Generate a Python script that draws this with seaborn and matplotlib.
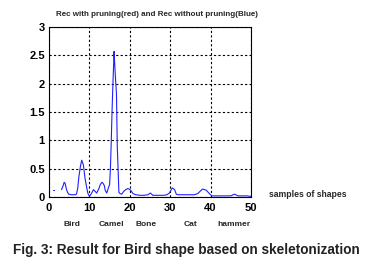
import matplotlib
matplotlib.use("Agg")
import matplotlib.pyplot as plt
import seaborn as sns
import pandas as pd
import numpy as np

# data
seg1_x = [1.0, 1.25]
seg1_y = [0.12, 0.12]

seg2_x = [3.1, 3.5, 3.75, 4.0, 4.3, 4.6, 4.9, 5.5, 6.0, 6.5, 6.8, 7.1, 7.4, 7.8, 8.1, 8.5, 8.9, 9.3, 9.6, 10.0,
          10.5, 11.0, 11.4, 11.8, 12.3, 12.7, 13.1, 13.4, 13.7, 13.9, 14.3, 14.7, 15.0, 15.2, 15.4, 15.6, 15.8,
          16.0, 16.1, 16.3, 16.5, 16.7, 16.9, 17.1, 17.3, 17.6, 18.0, 18.5, 19.0, 19.5, 19.8, 20.2, 20.8,
          21.5, 22.5, 23.5, 24.5, 25.1, 25.7, 26.5, 27.5, 28.5, 29.2, 29.8, 30.5, 31.1, 31.5, 32.0, 33.0,
          34.0, 35.0, 36.0, 36.8, 37.4, 38.0, 38.9, 39.7, 40.3, 41.0, 42.0, 43.0, 44.0, 45.0, 45.9, 46.8,
          48.0, 49.0, 50.0]
seg2_y = [0.13, 0.2, 0.26, 0.24, 0.14, 0.08, 0.05, 0.04, 0.04, 0.04, 0.05, 0.15, 0.36, 0.55, 0.65, 0.57, 0.34,
          0.18, 0.07, 0.01, 0.06, 0.13, 0.1, 0.07, 0.14, 0.22, 0.26, 0.24, 0.2, 0.12, 0.07, 0.16, 0.22, 0.5,
          0.95, 1.5, 1.95, 2.35, 2.57, 2.3, 2.04, 1.83, 0.89, 0.5, 0.08, 0.06, 0.05, 0.1, 0.13, 0.15, 0.14,
          0.12, 0.06, 0.04, 0.03, 0.03, 0.04, 0.07, 0.03, 0.03, 0.03, 0.03, 0.04, 0.07, 0.16, 0.13, 0.05,
          0.04, 0.04, 0.04, 0.04, 0.04, 0.06, 0.1, 0.14, 0.12, 0.06, 0.02, 0.02, 0.02, 0.02, 0.02, 0.02,
          0.05, 0.02, 0.02, 0.02, 0.01]

x_ticks = [0, 10, 20, 30, 40, 50]
y_ticks = [0, 0.5, 1, 1.5, 2, 2.5, 3]
y_ticklabels = ["0", "0.5", "1", "1.5", "2", "2.5", "3"]
shape_names = ["Bird", "Camel", "Bone", "Cat", "hammer"]
shape_pos = [5.7, 15.5, 24.0, 35.0, 45.7]

title = "Rec with pruning(red) and Rec without pruning(Blue)"
xlabel = "samples of shapes"
caption = "Fig. 3: Result for Bird shape based on skeletonization"

df = pd.DataFrame({
    "x": seg1_x + seg2_x,
    "y": seg1_y + seg2_y,
    "seg": [1] * len(seg1_x) + [2] * len(seg2_x),
})

sns.set_style("white")
plt.rcParams["font.family"] = ["Liberation Sans", "DejaVu Sans"]

fig = plt.figure(figsize=(3.72, 2.67), dpi=100)
ax = fig.add_axes([49 / 372, 1 - 197 / 267, (251 - 49) / 372, (197 - 27) / 267])

sns.lineplot(data=df, x="x", y="y", units="seg", estimator=None, color="#2020ff",
             linewidth=0.8, ax=ax, legend=False)

ax.set_xlim(0, 50)
ax.set_ylim(0, 3)
ax.set_xticks(x_ticks)
ax.set_yticks(y_ticks)
ax.set_yticklabels(y_ticklabels)
ax.set_xlabel("")
ax.set_ylabel("")
ax.grid(True, color="black", linestyle=(0, (2, 2)), linewidth=0.8)
for s in ax.spines.values():
    s.set_visible(True)
    s.set_color("black")
    s.set_linewidth(0.8)
ax.tick_params(direction="in", length=3, width=0.6, labelsize=8, colors="black")
ax.tick_params(axis="x", pad=4)
ax.tick_params(axis="y", pad=3)
for lab in ax.get_xticklabels() + ax.get_yticklabels():
    lab.set_fontweight("bold")

fig.text(156.5 / 372, 1 - 15 / 267, title, fontsize=5.8, fontweight="bold",
         ha="center", va="center")
ax.text(1.09, 0.015, xlabel, transform=ax.transAxes, fontsize=6.2, fontweight="bold",
        ha="left", va="center")
for name, pos in zip(shape_names, shape_pos):
    ax.text(pos, -0.16, name, transform=ax.get_xaxis_transform(), fontsize=6.0,
            fontweight="bold", ha="center", va="center")

fig.text(186 / 372, 1 - 250 / 267, caption, fontsize=9.8, fontweight="bold",
         ha="center", va="center", color="#222222")

fig.savefig("out.png", dpi=100)
